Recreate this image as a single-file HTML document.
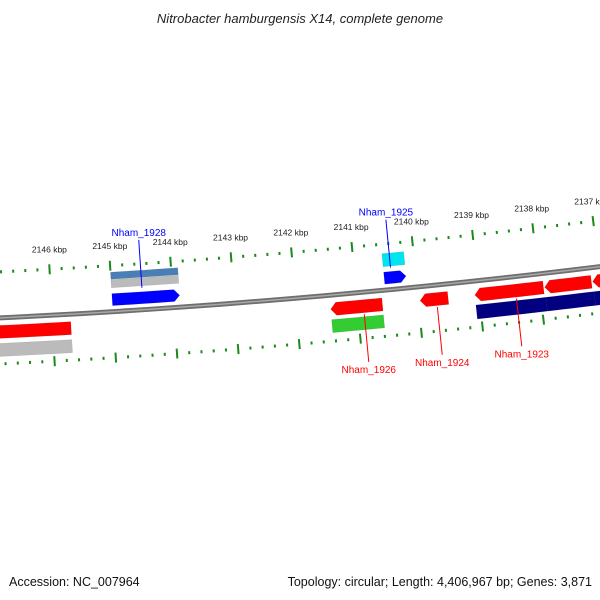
<!DOCTYPE html>
<html><head><meta charset="utf-8">
<style>
body{margin:0;background:#fff;}
svg{display:block;font-family:"Liberation Sans","DejaVu Sans",sans-serif;}
</style></head>
<body>
<svg id="map" width="600" height="600" viewBox="0 0 600 600">
<text x="300" y="23" font-size="13" font-style="italic" text-anchor="middle" fill="#222">Nitrobacter hamburgensis X14, complete genome</text>
<text x="9" y="586" font-size="12.5" fill="#111">Accession: NC_007964</text>
<text x="592" y="586" font-size="12.5" text-anchor="end" fill="#111">Topology: circular; Length: 4,406,967 bp; Genes: 3,871</text>
<g id="layer"></g>
</svg>
<script>
// data
const tickKbp = [2146,2145,2144,2143,2142,2141,2140,2139,2138,2137];
const featStart = [2146.9,2145.0,2145.0,2145.0,2140.52,2140.52,2141.44,2141.44,2139.97,2139.07,2137.92,2137.13,2139.07,2137.92,2137.13,2146.9];
const featEnd   = [2145.70,2143.89,2143.89,2143.89,2140.16,2140.16,2140.59,2140.59,2139.51,2137.94,2137.15,2136.3,2137.92,2137.13,2136.3,2145.7];
const featRing  = [-14,12,36,28,12,30,-14,-31,-14,-14,-14,-14,-31,-31,-31,-32];
const featColor = ['#ff0000','#0000ff','#4a7fb5','#bbbbbb','#0000ff','#00e5f0','#ff0000','#33cc33','#ff0000','#ff0000','#ff0000','#ff0000','#000080','#000080','#000080','#bbbbbb'];
const featArrow = [0,1,0,0,1,0,-1,0,-1,-1,-1,-1,0,0,0,0];
const featWidth = [13,12,7,8,12,13,13,13,13,13,13,13,14,14,14,13];
const labelNames = ['Nham_1928','Nham_1925','Nham_1926','Nham_1924','Nham_1923'];
const labelKbp = [2144.5,2140.4,2140.9,2139.7,2138.4];
const labelColor = ['#0000ff','#0000ff','#ff0000','#ff0000','#ff0000'];
const labelSide = [1,1,-1,-1,-1];

const CX=-396, CY=327.5-8180, R=8180, TH0=0.0548, K=61/8180;
function theta(kbp){return TH0+(2146-kbp)*K;}
function pt(kbp,off){const t=theta(kbp),r=R-off;return [CX+r*Math.sin(t),CY+r*Math.cos(t)];}
const NS='http://www.w3.org/2000/svg';
const layer=document.getElementById('layer');
function mk(tag,attrs){const e=document.createElementNS(NS,tag);for(const k in attrs)e.setAttribute(k,attrs[k]);layer.appendChild(e);return e;}
function arcPts(a,b,off,n){const p=[];for(let i=0;i<=n;i++){p.push(pt(a+(b-a)*i/n,off));}return p;}

// backbone
let bb=arcPts(2153,2130,0,40).map(p=>p.join(',')).join(' ');
let e=mk('polyline',{points:bb,fill:'none',stroke:'#6e6e6e','stroke-width':5});


e=mk('polyline',{points:bb,fill:'none',stroke:'#a8a8a8','stroke-width':1.5});



// ticks
for(let v=2130;v<=2153;v+=0.2){
  const kb=Math.round(v*10)/10;
  const major=Math.abs(kb-Math.round(kb))<0.01;
  [46,-46].forEach(s=>{
    const len=major?5:1.5;
    const a=pt(kb,s-len),b=pt(kb,s+len);
    const t=mk('line',{x1:a[0],y1:a[1],x2:b[0],y2:b[1],stroke:'#1a8a1a','stroke-width':2});
    
    
  });
}
tickKbp.forEach(k=>{
  const p=pt(k,66);
  const t=mk('text',{x:p[0]+1,y:p[1]+3,'font-size':8.5,'text-anchor':'middle',fill:'#222'});
  t.textContent=k+' kbp';
  
  
});

// features
featStart.forEach((s,i)=>{
  const en=featEnd[i],off=featRing[i],w=featWidth[i],dir=featArrow[i];
  const lo=Math.max(s,en),hi=Math.min(s,en);
  const head=0.09;
  let outer,inner,pts;
  if(dir===1){
    outer=arcPts(lo,hi+head,off+w/2,6);inner=arcPts(hi+head,lo,off-w/2,6);
    pts=[...outer,pt(hi,off),...inner];
  }else if(dir===-1){
    outer=arcPts(lo-head,hi,off+w/2,6);inner=arcPts(hi,lo-head,off-w/2,6);
    pts=[...outer,...inner,pt(lo,off)];
  }else{
    outer=arcPts(lo,hi,off+w/2,6);inner=arcPts(hi,lo,off-w/2,6);
    pts=[...outer,...inner];
  }
  const f=mk('polygon',{points:pts.map(p=>p.join(',')).join(' '),fill:featColor[i],stroke:'rgba(0,0,0,0.15)','stroke-width':0.5});
  
  
});

// labels
labelNames.forEach((n,i)=>{
  const s=labelSide[i];
  const a=pt(labelKbp[i],s*22),b=pt(labelKbp[i],s*70);
  const l=mk('line',{x1:a[0],y1:a[1],x2:b[0],y2:b[1],stroke:labelColor[i],'stroke-width':1});
  
  
  const t=mk('text',{x:b[0],y:s>0?b[1]-4:b[1]+11,'font-size':10,'text-anchor':'middle',fill:labelColor[i]});
  t.textContent=n;
  
  
});
</script>
</body></html>
